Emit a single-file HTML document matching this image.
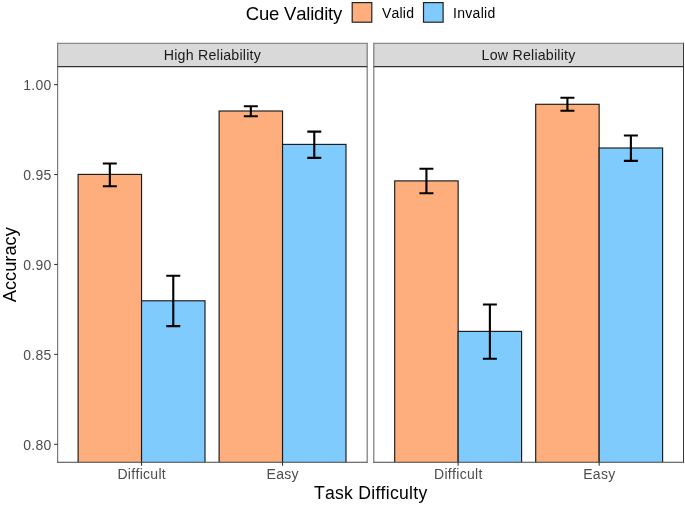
<!DOCTYPE html>
<html><head><meta charset="utf-8"><style>
html,body{margin:0;padding:0;background:#fff;width:685px;height:506px;overflow:hidden}
svg{display:block;will-change:transform;font-family:"Liberation Sans",sans-serif;font-kerning:none;font-variant-ligatures:none;font-feature-settings:"kern" 0,"liga" 0}
</style></head><body>
<svg width="685" height="506" viewBox="0 0 685 506">
<rect width="685" height="506" fill="#fff"/>
<defs><clipPath id="c0"><rect x="57.6" y="66.6" width="309.59999999999997" height="395.70000000000005"/></clipPath><clipPath id="c1"><rect x="373.8" y="66.6" width="309.59999999999997" height="395.70000000000005"/></clipPath></defs>
<text x="245.8" y="19.9" font-size="18.5" fill="#000" letter-spacing="-0.2">Cue Validity</text>
<rect x="352.2" y="2.6" width="19.6" height="19.6" fill="#FDAE7C" stroke="#222" stroke-width="1.2"/>
<text x="382" y="18.3" font-size="14" fill="#000" letter-spacing="0.2">Valid</text>
<rect x="423.5" y="2.6" width="19.6" height="19.6" fill="#80CBFD" stroke="#222" stroke-width="1.2"/>
<text x="453" y="18.3" font-size="14" fill="#000" letter-spacing="0.3">Invalid</text>
<rect x="57.6" y="43.3" width="309.59999999999997" height="23.299999999999997" fill="#D9D9D9"/>
<text x="212.40" y="60.1" font-size="14.2" fill="#1A1A1A" text-anchor="middle" letter-spacing="0.22">High Reliability</text>
<g clip-path="url(#c0)">
<rect x="78.10" y="174.4" width="63.45" height="292.9" fill="#FDAE7C" stroke="#1a1a1a" stroke-width="1.15"/>
<rect x="141.55" y="300.8" width="63.45" height="166.5" fill="#80CBFD" stroke="#1a1a1a" stroke-width="1.15"/>
<rect x="219.10" y="111.0" width="63.45" height="356.3" fill="#FDAE7C" stroke="#1a1a1a" stroke-width="1.15"/>
<rect x="282.55" y="144.4" width="63.45" height="322.9" fill="#80CBFD" stroke="#1a1a1a" stroke-width="1.15"/>
</g>
<path d="M102.83 163.5H116.83M109.83 163.5V186.2M102.83 186.2H116.83" stroke="#000" stroke-width="2.1" fill="none"/>
<path d="M166.28 275.8H180.28M173.28 275.8V326.1M166.28 326.1H180.28" stroke="#000" stroke-width="2.1" fill="none"/>
<path d="M243.82 106.2H257.82M250.82 106.2V116.2M243.82 116.2H257.82" stroke="#000" stroke-width="2.1" fill="none"/>
<path d="M307.28 131.6H321.28M314.28 131.6V157.9M307.28 157.9H321.28" stroke="#000" stroke-width="2.1" fill="none"/>
<path d="M57.6 42.699999999999996V462.90000000000003M367.2 42.699999999999996V462.90000000000003" stroke="#7a7a7a" stroke-width="1.2" fill="none"/>
<path d="M57.6 43.3H367.2" stroke="#8a8a8a" stroke-width="1.3" fill="none"/>
<path d="M57.6 66.6H367.2" stroke="#333" stroke-width="1.3" fill="none"/>
<path d="M57.6 462.3H367.2" stroke="#444" stroke-width="1.1" fill="none"/>
<path d="M141.55 462.3V465.8" stroke="#333333" stroke-width="1.07"/>
<text x="141.75" y="479" font-size="14" fill="#4D4D4D" text-anchor="middle" letter-spacing="0.3">Difficult</text>
<path d="M282.55 462.3V465.8" stroke="#333333" stroke-width="1.07"/>
<text x="282.75" y="479" font-size="14" fill="#4D4D4D" text-anchor="middle" letter-spacing="0.3">Easy</text>
<rect x="373.8" y="43.3" width="309.59999999999997" height="23.299999999999997" fill="#D9D9D9"/>
<text x="528.60" y="60.1" font-size="14.2" fill="#1A1A1A" text-anchor="middle" letter-spacing="0.22">Low Reliability</text>
<g clip-path="url(#c1)">
<rect x="394.70" y="180.9" width="63.45" height="286.4" fill="#FDAE7C" stroke="#1a1a1a" stroke-width="1.15"/>
<rect x="458.15" y="331.4" width="63.45" height="135.90000000000003" fill="#80CBFD" stroke="#1a1a1a" stroke-width="1.15"/>
<rect x="535.70" y="104.3" width="63.45" height="363.0" fill="#FDAE7C" stroke="#1a1a1a" stroke-width="1.15"/>
<rect x="599.15" y="148.0" width="63.45" height="319.3" fill="#80CBFD" stroke="#1a1a1a" stroke-width="1.15"/>
</g>
<path d="M419.43 168.7H433.43M426.43 168.7V193.3M419.43 193.3H433.43" stroke="#000" stroke-width="2.1" fill="none"/>
<path d="M482.88 304.5H496.88M489.88 304.5V358.7M482.88 358.7H496.88" stroke="#000" stroke-width="2.1" fill="none"/>
<path d="M560.42 97.8H574.42M567.42 97.8V110.7M560.42 110.7H574.42" stroke="#000" stroke-width="2.1" fill="none"/>
<path d="M623.88 135.5H637.88M630.88 135.5V160.9M623.88 160.9H637.88" stroke="#000" stroke-width="2.1" fill="none"/>
<path d="M373.8 42.699999999999996V462.90000000000003" stroke="#7a7a7a" stroke-width="1.2" fill="none"/>
<path d="M683.5 42.699999999999996V462.90000000000003" stroke="#3a3a3a" stroke-width="1.0" fill="none"/>
<path d="M373.8 43.3H683.4" stroke="#8a8a8a" stroke-width="1.3" fill="none"/>
<path d="M373.8 66.6H683.4" stroke="#333" stroke-width="1.3" fill="none"/>
<path d="M373.8 462.3H683.4" stroke="#444" stroke-width="1.1" fill="none"/>
<path d="M458.15 462.3V465.8" stroke="#333333" stroke-width="1.07"/>
<text x="458.35" y="479" font-size="14" fill="#4D4D4D" text-anchor="middle" letter-spacing="0.3">Difficult</text>
<path d="M599.15 462.3V465.8" stroke="#333333" stroke-width="1.07"/>
<text x="599.35" y="479" font-size="14" fill="#4D4D4D" text-anchor="middle" letter-spacing="0.3">Easy</text>
<path d="M54.2 84.60H57.6" stroke="#333333" stroke-width="1.07"/>
<text x="51.6" y="89.90" font-size="14" fill="#4D4D4D" text-anchor="end" letter-spacing="0.3">1.00</text>
<path d="M54.2 174.53H57.6" stroke="#333333" stroke-width="1.07"/>
<text x="51.6" y="179.83" font-size="14" fill="#4D4D4D" text-anchor="end" letter-spacing="0.3">0.95</text>
<path d="M54.2 264.46H57.6" stroke="#333333" stroke-width="1.07"/>
<text x="51.6" y="269.76" font-size="14" fill="#4D4D4D" text-anchor="end" letter-spacing="0.3">0.90</text>
<path d="M54.2 354.39H57.6" stroke="#333333" stroke-width="1.07"/>
<text x="51.6" y="359.69" font-size="14" fill="#4D4D4D" text-anchor="end" letter-spacing="0.3">0.85</text>
<path d="M54.2 444.32H57.6" stroke="#333333" stroke-width="1.07"/>
<text x="51.6" y="449.62" font-size="14" fill="#4D4D4D" text-anchor="end" letter-spacing="0.3">0.80</text>
<text x="370.7" y="498.5" font-size="17.6" fill="#000" text-anchor="middle" letter-spacing="0.27">Task Difficulty</text>
<text transform="translate(16.0 264.7) rotate(-90)" x="0" y="0" font-size="18.3" fill="#000" text-anchor="middle">Accuracy</text>
</svg>
</body></html>
